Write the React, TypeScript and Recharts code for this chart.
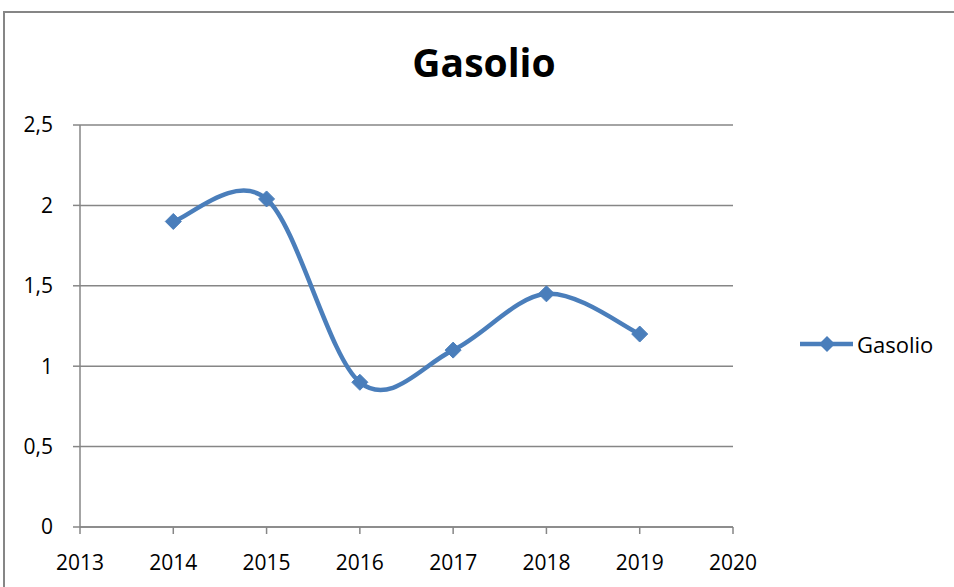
import { LineChart, Line, XAxis, YAxis, CartesianGrid } from "recharts";

const years = [2014, 2015, 2016, 2017, 2018, 2019];
const gasolio = [1.9, 2.04, 0.9, 1.1, 1.45, 1.2];
const xTicks = [2013, 2014, 2015, 2016, 2017, 2018, 2019, 2020];
const yTicks = [0, 0.5, 1, 1.5, 2, 2.5];

const data = years.map((year, i) => ({ year, gasolio: gasolio[i] }));

const BLUE = "#4a7ebb";
const GRAY = "#868686";
const FONT = "'Open Sans', 'Liberation Sans', sans-serif";

// smoothed line like the spreadsheet one (catmull-rom style bezier)
function smoothCurve(context: any) {
  let pts: number[][] = [];
  return {
    areaStart() {},
    areaEnd() {},
    lineStart() {
      pts = [];
    },
    point(x: number, y: number) {
      pts.push([+x, +y]);
    },
    lineEnd() {
      if (!pts.length) return;
      context.moveTo(pts[0][0], pts[0][1]);
      for (let i = 0; i < pts.length - 1; i++) {
        const p0 = pts[i - 1] || pts[i];
        const p1 = pts[i];
        const p2 = pts[i + 1];
        const p3 = pts[i + 2] || pts[i + 1];
        context.bezierCurveTo(
          p1[0] + (p2[0] - p0[0]) / 6,
          p1[1] + (p2[1] - p0[1]) / 6,
          p2[0] - (p3[0] - p1[0]) / 6,
          p2[1] - (p3[1] - p1[1]) / 6,
          p2[0],
          p2[1]
        );
      }
    },
  };
}

const Diamond = (props: any) => {
  const { cx, cy } = props;
  if (cx == null || cy == null) return null;
  const r = 8;
  return (
    <polygon
      points={`${cx},${cy - r} ${cx + r},${cy} ${cx},${cy + r} ${cx - r},${cy}`}
      fill={BLUE}
      stroke={BLUE}
      strokeWidth={1}
    />
  );
};

export default function App() {
  return (
    <div style={{ position: "absolute", left: 0, top: 0, width: 954, height: 587, overflow: "hidden", background: "#fff" }}>
      <div
        style={{
          position: "absolute",
          left: 3,
          top: 11,
          width: 980,
          height: 620,
          border: `2px solid ${GRAY}`,
        }}
      />
      <div
        style={{
          position: "absolute",
          left: 0,
          top: 42,
          width: 968,
          textAlign: "center",
          fontFamily: FONT,
          fontWeight: 700,
          fontSize: 39,
          lineHeight: "39px",
          color: "#000",
        }}
      >
        Gasolio
      </div>
      <LineChart
        width={954}
        height={587}
        data={data}
        margin={{ top: 125, right: 221, bottom: 0, left: 0 }}
        style={{ position: "absolute", left: 0, top: 0 }}
      >
        <CartesianGrid vertical={false} stroke={GRAY} strokeWidth={1.5} />
        <XAxis
          dataKey="year"
          type="number"
          domain={[2013, 2020]}
          ticks={xTicks}
          height={60}
          tickSize={7}
          tickMargin={21}
          axisLine={{ stroke: GRAY, strokeWidth: 1.5 }}
          tickLine={{ stroke: GRAY, strokeWidth: 1.5 }}
          tick={{ fill: "#000", fontSize: 21, fontFamily: FONT }}
          interval={0}
        />
        <YAxis
          type="number"
          domain={[0, 2.5]}
          ticks={yTicks}
          width={80}
          tickSize={7}
          tickMargin={20}
          axisLine={{ stroke: GRAY, strokeWidth: 1.5 }}
          tickLine={{ stroke: GRAY, strokeWidth: 1.5 }}
          tick={{ fill: "#000", fontSize: 21, fontFamily: FONT }}
          tickFormatter={(v: number) => String(v).replace(".", ",")}
          interval={0}
        />
        <Line
          dataKey="gasolio"
          name="Gasolio"
          type={smoothCurve as any}
          stroke={BLUE}
          strokeWidth={4.5}
          dot={<Diamond />}
          activeDot={false}
          isAnimationActive={false}
        />
      </LineChart>
      <div style={{ position: "absolute", left: 798, top: 330, display: "flex", alignItems: "center", height: 28 }}>
        <svg width={57} height={28}>
          <line x1={2} y1={14} x2={55} y2={14} stroke={BLUE} strokeWidth={4.5} />
          <polygon points="29,6 37,14 29,22 21,14" fill={BLUE} />
        </svg>
        <span style={{ fontFamily: FONT, fontSize: 22, lineHeight: "28px", color: "#000", marginLeft: 2, whiteSpace: "nowrap" }}>
          Gasolio
        </span>
      </div>
    </div>
  );
}
